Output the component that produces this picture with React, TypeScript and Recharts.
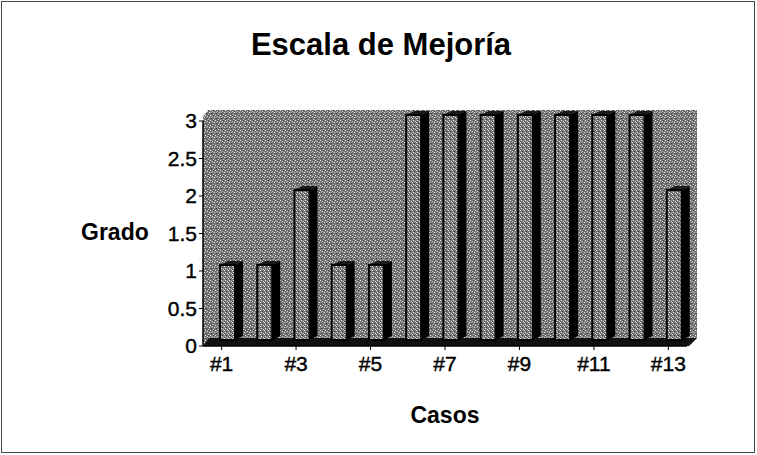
import React from 'react';
import {
  BarChart,
  Bar,
  XAxis,
  YAxis,
  ReferenceArea
} from 'recharts';

const casos = ['#1', '#2', '#3', '#4', '#5', '#6', '#7', '#8', '#9', '#10', '#11', '#12', '#13'];
const grado = [1, 1, 2, 1, 1, 3, 3, 3, 3, 3, 3, 3, 2];
const gradoTicks = [0, 0.5, 1, 1.5, 2, 2.5, 3];

const data = casos.map((caso, i) => ({ caso, grado: grado[i] }));

const FONT = '"Liberation Sans", Arial, sans-serif';

// back wall + floor of the 3D plot
const Wall = (props: any) => {
  const { x, y, width, height } = props;
  const b = y + height;
  return (
    <g>
      <polygon
        points={`${x},${b} ${x},${y - 4} ${x + 5},${y - 11} ${x + width + 10},${y - 11} ${x + width + 10},${b - 8} ${x + width + 2},${b}`}
        fill="url(#wallPat)"
      />
      <polygon
        points={`${x},${b} ${x + width + 2},${b} ${x + width + 10},${b - 8} ${x + 6},${b - 8}`}
        fill="#111"
      />
    </g>
  );
};

const Bar3D = (props: any) => {
  const { x, y, width, height } = props;
  const fx = x + 6;
  const fy = y - 6;
  const d = 8;
  const dy = 4;
  return (
    <g>
      <polygon points={`${fx},${fy} ${fx + d},${fy - dy} ${fx + width + d},${fy - dy} ${fx + width},${fy}`} fill="#1a1a1a" />
      <polygon
        points={`${fx + width},${fy} ${fx + width + d},${fy - dy} ${fx + width + d},${fy + height - dy} ${fx + width},${fy + height}`}
        fill="#000"
      />
      <rect x={fx} y={fy} width={width} height={height} fill="url(#barPat)" stroke="#000" strokeWidth={2} />
    </g>
  );
};

export default function App() {
  return (
    <div style={{ position: 'absolute', left: 0, top: 0, width: 757, height: 455, background: '#fff', fontFamily: FONT }}>
      <svg width={0} height={0} style={{ position: 'absolute' }}>
        <defs>
          <pattern id="wallPat" width={5} height={5} patternUnits="userSpaceOnUse">
            <rect width={5} height={5} fill="#727272" />
            <rect x={0} y={0} width={1} height={1} fill="#efefef" />
            <rect x={2} y={1} width={1} height={1} fill="#d0d0d0" />
            <rect x={4} y={2} width={1} height={1} fill="#e4e4e4" />
            <rect x={1} y={3} width={1} height={1} fill="#3c3c3c" />
            <rect x={3} y={4} width={1} height={1} fill="#c4c4c4" />
            <rect x={1} y={2} width={1} height={1} fill="#a8a8a8" />
            <rect x={3} y={0} width={1} height={1} fill="#4a4a4a" />
          </pattern>
          <pattern id="barPat" width={4} height={4} patternUnits="userSpaceOnUse">
            <rect width={4} height={4} fill="#777777" />
            <rect x={1} y={0} width={1} height={1} fill="#ececec" />
            <rect x={3} y={1} width={1} height={1} fill="#d0d0d0" />
            <rect x={0} y={2} width={1} height={1} fill="#eeeeee" />
            <rect x={2} y={3} width={1} height={1} fill="#3e3e3e" />
            <rect x={0} y={1} width={1} height={1} fill="#505050" />
          </pattern>
        </defs>
      </svg>
      <div
        style={{
          position: 'absolute', left: 1, top: 1, width: 752, height: 450,
          border: '1px solid #444'
        }}
      />
      <div
        style={{
          position: 'absolute', left: 0, top: 29, width: 762, textAlign: 'center',
          fontSize: 31, fontWeight: 'bold', lineHeight: '31px', color: '#000'
        }}
      >
        Escala de Mejoría
      </div>
      <div style={{ position: 'absolute', left: 0, top: 0 }}>
        <BarChart
          width={757}
          height={455}
          data={data}
          margin={{ top: 121, right: 70, bottom: 0, left: 0 }}
          barSize={15}
        >
          <ReferenceArea y1={0} y2={3} shape={<Wall />} ifOverflow="visible" />
          <XAxis
            dataKey="caso"
            interval={1}
            height={109}
            tickSize={4}
            tickMargin={6}
            axisLine={{ stroke: '#000', strokeWidth: 1.5 }}
            tickLine={{ stroke: '#000' }}
            tick={{ fill: '#000', fontSize: 21, fontFamily: FONT, stroke: '#000', strokeWidth: 0.4 }}
            label={{ value: 'Casos', position: 'insideBottom', offset: 32, fill: '#000', fontSize: 23, fontWeight: 'bold', fontFamily: FONT }}
          />
          <YAxis
            domain={[0, 3]}
            ticks={gradoTicks}
            width={203}
            tickSize={4}
            tickMargin={2}
            axisLine={{ stroke: '#000', strokeWidth: 1.5 }}
            tickLine={{ stroke: '#000' }}
            tick={{ fill: '#000', fontSize: 21, fontFamily: FONT, stroke: '#000', strokeWidth: 0.4 }}
            label={{ value: 'Grado', position: 'insideLeft', offset: 81, dy: -2, fill: '#000', fontSize: 23, fontWeight: 'bold', fontFamily: FONT }}
          />
          <Bar dataKey="grado" shape={<Bar3D />} isAnimationActive={false} />
        </BarChart>
      </div>
    </div>
  );
}
